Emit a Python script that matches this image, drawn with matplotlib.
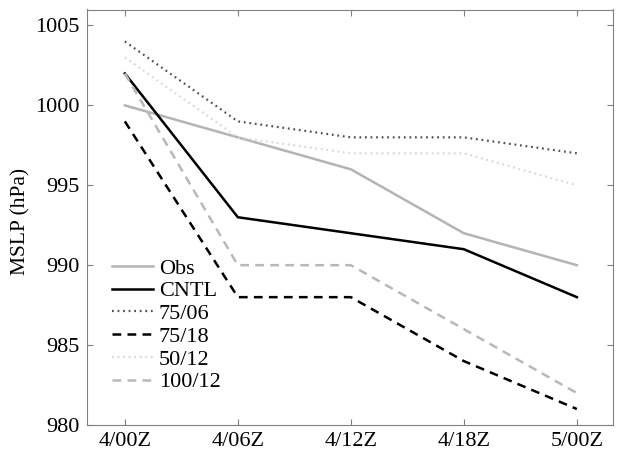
import matplotlib.pyplot as plt
import numpy as np

times = ['4/00Z', '4/06Z', '4/12Z', '4/18Z', '5/00Z']
obs = [1000, 998, 996, 992, 990]
cntl = [1002, 993, 992, 991, 988]
exp_75_06 = [1004, 999, 998, 998, 997]
exp_75_18 = [999, 988, 988, 984, 981]
exp_50_12 = [1003, 998, 997, 997, 995]
exp_100_12 = [1002, 990, 990, 986, 982]

plt.rcParams['font.family'] = ['Liberation Serif', 'DejaVu Serif']

fig = plt.figure(figsize=(6.18, 4.51), dpi=100)
ax = fig.add_axes([87 / 618, 1 - 425 / 451, (613 - 87) / 618, (425 - 9.5) / 451])

dot = (0, (0.8, 1.7))
dash = (0, (3.5, 2.5))
x = np.arange(len(times))
ax.plot(x, obs, color='#b4b4b4', lw=1.8, ls='-', label='Obs')
ax.plot(x, cntl, color='black', lw=1.8, ls='-', label='CNTL')
ax.plot(x, exp_75_06, color='#505050', lw=1.6, ls=dot, label='75/06')
ax.plot(x, exp_75_18, color='black', lw=1.8, ls=dash, label='75/18')
ax.plot(x, exp_50_12, color='#d8d8d8', lw=1.6, ls=dot, label='50/12')
ax.plot(x, exp_100_12, color='#b8b8b8', lw=1.8, ls=dash, label='100/12')

ax.set_xlim(-0.335, 4.32)
ax.set_ylim(980, 1006)
ax.set_xticks(x)
ax.set_xticklabels(times)
ax.set_yticks([980, 985, 990, 995, 1000, 1005])
ax.tick_params(direction='in', top=True, right=True, labelsize=16, color='#808080', length=4, pad=5)
for s in ax.spines.values():
    s.set_color('#808080')
ax.set_ylabel('MSLP (hPa)', fontsize=15.5)
ax.yaxis.set_label_coords(-57 / 526, (425 - 221) / 415.5)

ax.legend(loc='upper left', frameon=False, fontsize=16, handlelength=1.85,
          handletextpad=0.25, labelspacing=0.1, borderpad=0, borderaxespad=0,
          bbox_to_anchor=(25 / 526, (425 - 258) / 415.5))

fig.savefig('out.png', dpi=100)
